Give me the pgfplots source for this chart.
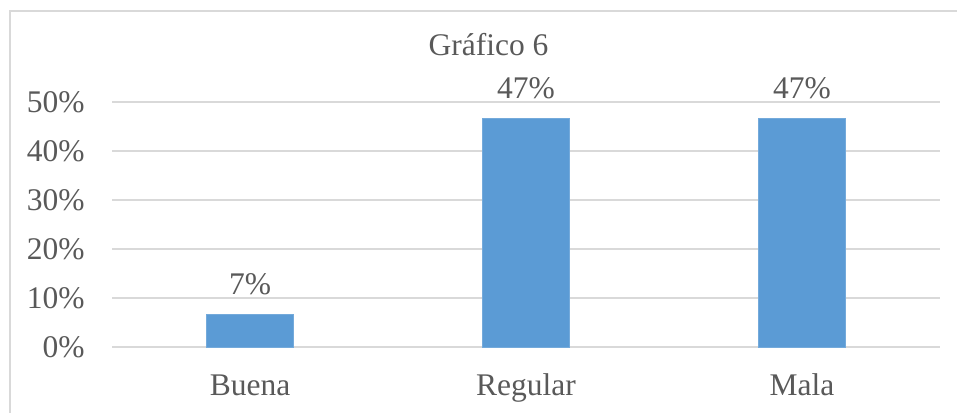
\documentclass[border=0pt]{standalone}
\usepackage{fontspec}
\setmainfont{Liberation Serif}
\usepackage{pgfplots}
\pgfplotsset{compat=1.18}
\definecolor{barblue}{HTML}{5B9BD5}
\definecolor{gridgray}{HTML}{D9D9D9}
\definecolor{txtgray}{HTML}{595959}
\newcommand{\chartfont}{\fontsize{15.75}{18}\selectfont}
\begin{document}
\begin{tikzpicture}
\useasboundingbox (-56pt,-32.5pt) rectangle (422.5pt,173.5pt);
% frame of the chart area (right and bottom edges fall outside the picture)
\draw[gridgray, line width=1pt] (-51pt,-40pt) -- (-51pt,168pt) -- (430pt,168pt);
\begin{axis}[
  at={(0pt,0pt)}, anchor=south west,
  scale only axis,
  width=414pt, height=122.5pt,
  ybar, bar width=43.5pt,
  xmin=-0.5, xmax=2.5,
  ymin=0, ymax=50,
  xtick={0,1,2},
  xticklabels={Buena,Regular,Mala},
  ytick={0,10,20,30,40,50},
  yticklabels={0\%,10\%,20\%,30\%,40\%,50\%},
  ymajorgrids,
  grid style={gridgray, line width=1pt},
  axis line style={draw=none},
  major tick length=0pt,
  xticklabel style={font=\chartfont, text=txtgray, anchor=base, yshift=-24pt},
  yticklabel style={font=\chartfont, text=txtgray, anchor=east, inner sep=0pt, xshift=-13.5pt},
  title={Gráfico 6},
  title style={font=\chartfont, text=txtgray, anchor=base, at={(rel axis cs:0.4547,1.1388)}},
  clip=false,
  point meta=explicit symbolic,
  nodes near coords,
  every node near coord/.append style={font=\chartfont, text=txtgray, anchor=base, yshift=10pt},
]
\addplot[fill=barblue, draw=barblue!85!white] coordinates {
  (0,6.67) [7\%]
  (1,46.67) [47\%]
  (2,46.67) [47\%]
};
\end{axis}
\end{tikzpicture}
\end{document}
